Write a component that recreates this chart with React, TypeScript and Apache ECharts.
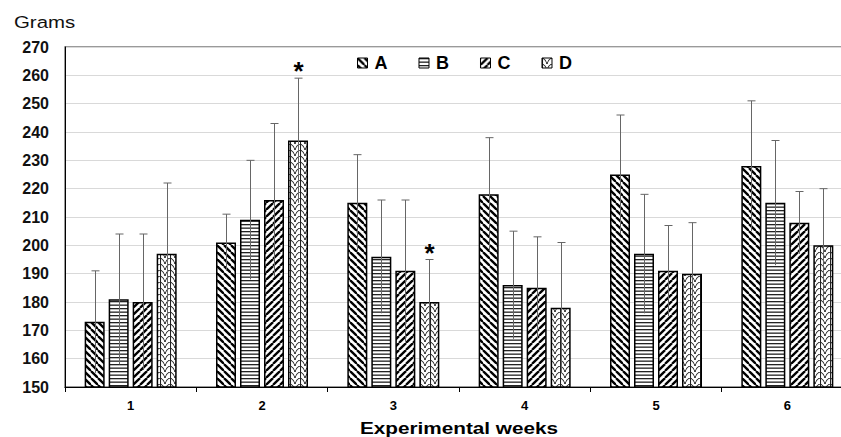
import React, { useEffect, useRef } from 'react';
import * as echarts from 'echarts';

const categories = ['1', '2', '3', '4', '5', '6'];
const seriesNames = ['A', 'B', 'C', 'D'];
const valuesA = [173, 201, 215, 218, 225, 228];
const valuesB = [181, 209, 196, 186, 197, 215];
const valuesC = [180, 216, 191, 185, 191, 208];
const valuesD = [197, 237, 180, 178, 190, 200];
const errA = [18, 10, 17, 20, 21, 23];
const errB = [23, 21, 20, 19, 21, 22];
const errC = [24, 27, 25, 18, 16, 11];
const errD = [25, 22, 15, 23, 18, 20];
const sigD = [0, 1, 1, 0, 0, 0];
const yMin = 150;
const yMax = 270;
const yStep = 10;
const yTitle = 'Grams';
const xTitle = 'Experimental weeks';

const FONT = '"Liberation Sans", Arial, sans-serif';

function makeTile(w: number, h: number, draw: (ctx: CanvasRenderingContext2D) => void) {
  const c = document.createElement('canvas');
  c.width = w;
  c.height = h;
  const ctx = c.getContext('2d')!;
  ctx.fillStyle = '#ffffff';
  ctx.fillRect(0, 0, w, h);
  draw(ctx);
  return { image: c.toDataURL(), repeat: 'repeat', imageWidth: w, imageHeight: h } as any;
}

function patterns() {
  const s = 7;
  const back = makeTile(s, s, (ctx) => {
    ctx.strokeStyle = '#000';
    ctx.lineWidth = 2.3;
    for (let k = -1; k <= 1; k++) {
      ctx.beginPath();
      ctx.moveTo(k * s, 0);
      ctx.lineTo(k * s + s, s);
      ctx.stroke();
    }
  });
  const horiz = makeTile(4, 7, (ctx) => {
    ctx.fillStyle = '#222';
    ctx.fillRect(0, 0, 4, 1.3);
    ctx.fillRect(0, 3.5, 4, 1.3);
  });
  const fwd = makeTile(s, s, (ctx) => {
    ctx.strokeStyle = '#000';
    ctx.lineWidth = 2.3;
    for (let k = -1; k <= 1; k++) {
      ctx.beginPath();
      ctx.moveTo(k * s, s);
      ctx.lineTo(k * s + s, 0);
      ctx.stroke();
    }
  });
  const wave = makeTile(10, 6, (ctx) => {
    ctx.strokeStyle = '#222';
    ctx.lineWidth = 1.1;
    ctx.beginPath();
    ctx.moveTo(0, 0);
    ctx.quadraticCurveTo(4, 1.5, 5, 6);
    ctx.stroke();
    ctx.beginPath();
    ctx.moveTo(10, 0);
    ctx.quadraticCurveTo(6, 1.5, 5, 6);
    ctx.stroke();
    ctx.beginPath();
    ctx.moveTo(0.5, 0);
    ctx.lineTo(0.5, 6);
    ctx.stroke();
  });
  return [back, horiz, fwd, wave];
}

export default function App() {
  const ref = useRef<HTMLDivElement>(null);
  useEffect(() => {
    if (!ref.current) return;
    const chart = echarts.init(ref.current, undefined, { renderer: 'svg' });
    const pats = patterns();
    const values = [valuesA, valuesB, valuesC, valuesD];
    const errs = [errA, errB, errC, errD];
    const barSeries = seriesNames.map((name, i) => ({
      name,
      type: 'bar',
      barWidth: 20,
      barGap: '20%',
      data: values[i],
      itemStyle: { color: pats[i], borderColor: '#000', borderWidth: 1.5 },
      z: 2,
    }));
    const errData: number[][] = [];
    for (let s = 0; s < 4; s++) {
      for (let c = 0; c < categories.length; c++) {
        errData.push([c, values[s][c], errs[s][c], s, s === 3 ? sigD[c] : 0]);
      }
    }
    const errSeries = {
      name: 'err',
      type: 'custom',
      z: 5,
      silent: true,
      data: errData,
      encode: { x: 0, y: 1 },
      renderItem: (params: any, api: any) => {
        const c = api.value(0);
        const v = api.value(1);
        const e = api.value(2);
        const s = api.value(3);
        const sig = api.value(4);
        const top = api.coord([c, v + e]);
        const bot = api.coord([c, v - e]);
        const x = Math.round(top[0] + (s - 1.5) * 24) + 0.5;
        const children: any[] = [
          { type: 'line', shape: { x1: x, y1: top[1], x2: x, y2: bot[1] }, style: { stroke: '#666', lineWidth: 1 } },
          { type: 'line', shape: { x1: x - 4, y1: top[1], x2: x + 4, y2: top[1] }, style: { stroke: '#666', lineWidth: 1 } },
        ];
        if (sig) {
          children.push({
            type: 'text',
            style: {
              text: '*',
              x: x,
              y: top[1] - 7,
              align: 'center',
              verticalAlign: 'middle',
              font: `bold 26px ${FONT}`,
              fill: '#000',
            },
          });
        }
        return { type: 'group', children };
      },
    };
    chart.setOption({
      animation: false,
      backgroundColor: '#ffffff',
      textStyle: { fontFamily: FONT },
      grid: {
        left: 65, right: -12, top: 47, bottom: 50,
        outerBoundsMode: 'none', containLabel: false,
        show: true, borderColor: '#7a7a7a', borderWidth: 1.5, backgroundColor: 'transparent',
      },
      legend: {
        data: seriesNames.map((n) => ({ name: n, icon: 'rect' })),
        left: 352,
        top: 49,
        itemWidth: 10,
        itemHeight: 10,
        itemGap: 31,
        itemStyle: { borderWidth: 1, borderColor: '#000' },
        textStyle: { fontSize: 18, fontWeight: 'bold', color: '#000', fontFamily: FONT, padding: [0, 0, 0, 2] },
      },
      graphic: [
        { type: 'text', x: 14, y: 22, scaleX: 1.2, style: { text: yTitle, font: `17px ${FONT}`, fill: '#111', align: 'left', verticalAlign: 'middle' } },
        { type: 'text', x: 459, y: 428, scaleX: 1.22, style: { text: xTitle, font: `bold 17px ${FONT}`, fill: '#000', align: 'center', verticalAlign: 'middle' } },
      ],
      xAxis: {
        type: 'category',
        data: categories,
        axisLine: { lineStyle: { color: '#000', width: 1 } },
        axisTick: { show: true, length: 5, lineStyle: { color: '#000' } },
        axisLabel: { fontSize: 13, fontWeight: 'bold', color: '#000', margin: 12 },
      },
      yAxis: {
        type: 'value',
        min: yMin,
        max: yMax,
        interval: yStep,
        axisLine: { show: true, lineStyle: { color: '#000', width: 1 } },
        axisTick: { show: false },
        axisLabel: { fontSize: 16, fontWeight: 'bold', color: '#111', margin: 16 },
        splitLine: { lineStyle: { color: '#d9d9d9', width: 1 } },
      },
      series: [...barSeries, errSeries],
    });
    return () => chart.dispose();
  }, []);
  return <div ref={ref} style={{ position: 'fixed', left: 0, top: 0, width: 841, height: 437, background: '#fff' }} />;
}
